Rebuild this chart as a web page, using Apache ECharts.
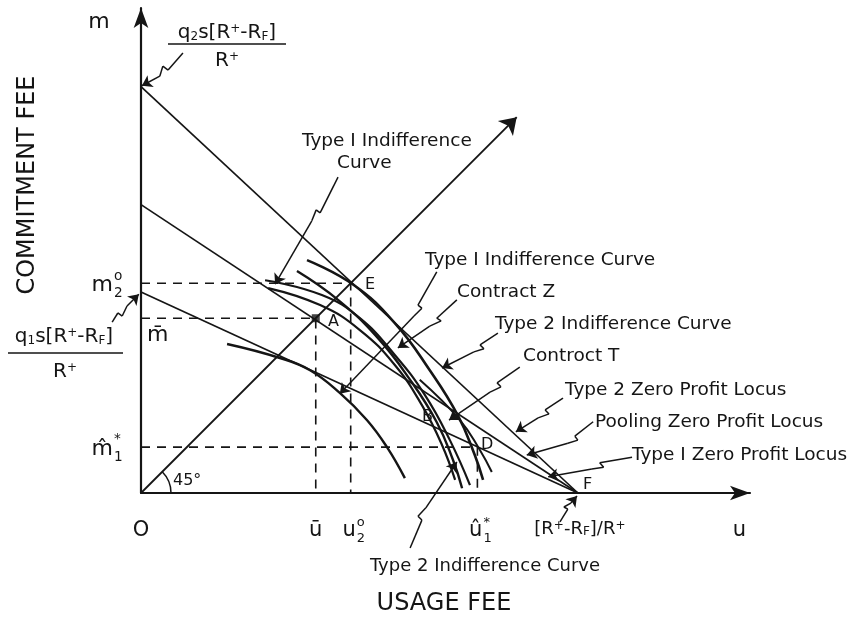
<!DOCTYPE html>
<html>
<head>
<meta charset="utf-8">
<script src="https://cdn.jsdelivr.net/npm/echarts@6/dist/echarts.min.js"></script>
<style>
html, body { margin: 0; background: #fff; }
#main { width: 866px; height: 617px; }
</style>
</head>
<body>
<div id="main"></div>
<script>
// units: u (usage fee) and m (commitment fee), F = [R+-RF]/R+ sits at u = 100
var type2Locus = [[0, 93], [100, 0]];
var poolingLocus = [[0, 66], [100, 0]];
var type1Locus = [[0, 46], [100, 0]];
var ray45 = [[0, 0], [86, 86]];

// indifference curves
var curveE = [[38.0, 53.3], [48.7, 47.6], [58.1, 38.9], [66.1, 28.1], [72.5, 17.8], [76.4, 8.7], [78.3, 3.0]];
var curveZ = [[35.7, 50.8], [45.1, 44.2], [54.2, 35.5], [61.6, 25.9], [67.7, 16.2], [71.4, 7.6], [73.5, 1.1]];
var curveT2a = [[28.4, 48.7], [41.4, 45.3], [50.1, 40.0], [58.1, 31.6], [65.0, 22.4], [70.7, 12.1], [75.3, 1.8]];
var curveT2b = [[29.1, 46.9], [41.0, 43.0], [50.1, 37.3], [58.1, 29.3], [64.3, 20.1], [68.9, 11.0], [71.9, 3.0]];
var curveD = [[63.8, 25.9], [73.0, 16.7], [77.6, 9.8], [80.3, 4.8]];
var curveLow = [[19.7, 34.1], [31.8, 30.9], [38.7, 28.1], [45.5, 22.9], [51.7, 16.7], [56.3, 10.5], [60.4, 3.4]];

// dashed guides to the axes
var guideE = [[0, 48], [48, 48], [48, 0]];
var guideA = [[0, 40], [40, 40], [40, 0]];
var guideD = [[0, 10.5], [77, 10.5], [77, 0]];
var pointA = [[40, 40]];

// leader lines (wiggle in the middle, arrow on the last piece)
var leadQ2 = [[9.6, 100.7], [6.2, 96.8], [5.0, 97.7], [4.3, 95.4], [0.2, 93.2]];
var leadQ1 = [[-6.6, 39.1], [-5.3, 41.2], [-4.3, 40.5], [-3.2, 42.8], [-0.5, 45.5]];
var leadType1Top = [[45.1, 72.3], [41.0, 64.1], [40.1, 64.8], [39.1, 62.3], [30.7, 47.8]];
var leadType1 = [[67.7, 50.6], [63.4, 43.0], [64.3, 42.3], [62.5, 40.5], [45.5, 22.7]];
var leadZ = [[72.3, 44.2], [67.7, 40.0], [68.7, 39.4], [66.1, 38.2], [58.8, 33.2]];
var leadType2 = [[81.7, 36.6], [77.6, 33.9], [78.5, 33.0], [76.2, 32.3], [68.9, 28.6]];
var leadT = [[86.7, 28.8], [81.5, 25.2], [82.4, 24.3], [79.9, 23.1], [70.5, 16.7]];
var leadZero2 = [[96.6, 21.7], [92.5, 19.0], [93.4, 18.1], [90.9, 17.2], [85.8, 14.0]];
var leadPool = [[103.5, 16.3], [99.3, 13.0], [100.0, 12.1], [97.7, 11.4], [88.3, 8.7]];
var leadZero1 = [[112.4, 8.2], [105.0, 6.9], [105.9, 5.9], [103.2, 5.5], [93.2, 3.7]];
var leadF = [[95.9, -6.6], [97.7, -3.7], [96.8, -3.2], [98.4, -2.3], [99.8, -0.7]];
var leadType2Low = [[61.6, -12.6], [64.3, -6.2], [63.4, -5.3], [65.2, -3.4], [72.3, 7.1]];

// tick labels
var uTicks = [0, 40, 48, 77, 100, 137];
var uTickNames = [['O'], ['ū'], ['u', 'o', '2'], ['û', '*', '1'], ['[R{sup|+}-R{sub|F}]/R{sup|+}'], ['u']];
var mTicks = [48, 40, 10.5, 107.8];
var mTickNames = [['m', 'o', '2'], ['m̄'], ['m̂', '*', '1'], ['m']];

var INK = '#151515';
var FONT = 'DejaVu Sans';

var chart = echarts.init(document.getElementById('main'));

function curve(data, width, smooth, dash) {
    return {
        type: 'line', data: data, symbol: 'none', clip: false, silent: true,
        smooth: smooth ? 0.45 : false,
        lineStyle: {color: INK, width: width, type: dash ? [9, 7] : 'solid'}
    };
}

var leaders = [leadQ2, leadQ1, leadType1Top, leadType1, leadZ, leadType2, leadT,
    leadZero2, leadPool, leadZero1, leadF, leadType2Low];
var bodies = [], tips = [];
leaders.forEach(function (pts) {
    for (var i = 0; i < pts.length - 1; i++) {
        var seg = {coords: [pts[i], pts[i + 1]]};
        if (i === pts.length - 2) tips.push(seg); else bodies.push(seg);
    }
});

var option = {
    animation: false,
    backgroundColor: '#fff',
    grid: {left: 141, top: 8, right: 116, bottom: 124},
    xAxis: {
        type: 'value', min: 0, max: 139.4,
        axisLine: {show: true, symbol: ['none', 'arrow'], symbolSize: [11, 20], lineStyle: {color: INK, width: 2.2}},
        axisTick: {show: false}, axisLabel: {show: false}, splitLine: {show: false}
    },
    yAxis: {
        type: 'value', min: 0, max: 111,
        axisLine: {show: true, symbol: ['none', 'arrow'], symbolSize: [11, 20], lineStyle: {color: INK, width: 2.2}},
        axisTick: {show: false}, axisLabel: {show: false}, splitLine: {show: false}
    },
    series: [
        curve(type2Locus, 1.7, false),
        curve(poolingLocus, 1.7, false),
        curve(type1Locus, 1.7, false),
        curve(curveE, 2.6, true),
        curve(curveZ, 2.4, true),
        curve(curveT2a, 2.2, true),
        curve(curveT2b, 2.2, true),
        curve(curveD, 2.0, true),
        curve(curveLow, 2.4, true),
        curve(guideE, 1.6, false, true),
        curve(guideA, 1.6, false, true),
        curve(guideD, 1.6, false, true),
        {
            type: 'lines', coordinateSystem: 'cartesian2d', clip: false, silent: true,
            data: [{coords: ray45}], symbol: ['none', 'arrow'], symbolSize: [0, 16],
            lineStyle: {color: INK, width: 1.8, opacity: 1}
        },
        {
            type: 'lines', coordinateSystem: 'cartesian2d', clip: false, silent: true,
            data: bodies, symbol: ['none', 'none'],
            lineStyle: {color: INK, width: 1.5, opacity: 1}
        },
        {
            type: 'lines', coordinateSystem: 'cartesian2d', clip: false, silent: true,
            data: tips, symbol: ['none', 'arrow'], symbolSize: [0, 10],
            lineStyle: {color: INK, width: 1.5, opacity: 1}
        },
        {
            type: 'scatter', data: pointA, symbol: 'rect', symbolSize: 8, silent: true,
            itemStyle: {color: INK}
        }
    ]
};
chart.setOption(option);

var rich = {
    sup: {fontSize: 12, fontFamily: FONT, verticalAlign: 'top', color: INK},
    sub: {fontSize: 12, fontFamily: FONT, verticalAlign: 'bottom', color: INK}
};

function txt(x, y, s, size, align, extra) {
    var g = {
        type: 'text', x: x, y: y, silent: true,
        style: {text: s, fontSize: size, fontFamily: FONT, fill: INK,
            align: align || 'left', verticalAlign: 'middle', rich: rich}
    };
    if (extra) for (var k in extra) g[k] = extra[k];
    return g;
}

// base glyph with stacked superscript and subscript
function scripted(x, y, name, size) {
    var out = [txt(x, y, name[0], size, name.length > 1 ? 'right' : 'center')];
    if (name[1]) out.push(txt(x + 1, y - size * 0.42, name[1], size * 0.62, 'left'));
    if (name[2]) out.push(txt(x + 1, y + size * 0.38, name[2], size * 0.62, 'left'));
    return out;
}

var gfx = [];
uTicks.forEach(function (v, i) {
    var p = chart.convertToPixel({gridIndex: 0}, [v, 0]);
    var name = uTickNames[i];
    if (name[0].indexOf('{') >= 0) {
        gfx.push(txt(p[0] + 2, p[1] + 36, name[0], 18, 'center'));
    } else {
        gfx = gfx.concat(scripted(p[0] + (name.length > 1 ? 5 : 0), p[1] + 38, name, 21));
    }
});
mTicks.forEach(function (v, i) {
    var p = chart.convertToPixel({gridIndex: 0}, [0, v]);
    var name = mTickNames[i];
    if (name[0] === 'm̄') gfx.push(txt(p[0] + 6, p[1] + 17, name[0], 22, 'left'));
    else if (name.length === 1) gfx.push(txt(p[0] - 42, p[1], name[0], 22, 'center'));
    else gfx = gfx.concat(scripted(p[0] - 28, p[1] + 2, name, 22));
});

var o = chart.convertToPixel({gridIndex: 0}, [0, 0]);
gfx.push({
    type: 'arc', silent: true,
    shape: {cx: o[0], cy: o[1], r: 30, startAngle: -Math.PI / 4, endAngle: 0, clockwise: true},
    style: {stroke: INK, fill: null, lineWidth: 1.5}
});

gfx.push(
    txt(302, 141, 'Type I Indifference', 18.5),
    txt(337, 163, 'Curve', 18.5),
    txt(425, 260, 'Type I Indifference Curve', 18.5),
    txt(457, 292, 'Contract Z', 18.5),
    txt(495, 324, 'Type 2 Indifference Curve', 18.5),
    txt(523, 356, 'Controct T', 18.5),
    txt(565, 390, 'Type 2 Zero Profit Locus', 18.5),
    txt(595, 422, 'Pooling Zero Profit Locus', 18.5),
    txt(632, 455, 'Type I Zero Profit Locus', 18.5),
    txt(485, 566, 'Type 2 Indifference Curve', 18, 'center'),
    txt(444, 604, 'USAGE FEE', 24, 'center'),
    txt(28, 185, 'COMMITMENT FEE', 24, 'center', {rotation: Math.PI / 2}),
    txt(365, 285, 'E', 16),
    txt(328, 322, 'A', 16),
    txt(422, 417, 'B', 16),
    txt(481, 445, 'D', 16),
    txt(583, 485, 'F', 16),
    txt(173, 481, '45°', 16),
    txt(227, 33, 'q{sub|2}s[R{sup|+}-R{sub|F}]', 20, 'center'),
    txt(227, 61, 'R{sup|+}', 20, 'center'),
    txt(64, 337, 'q{sub|1}s[R{sup|+}-R{sub|F}]', 20, 'center'),
    txt(65, 372, 'R{sup|+}', 20, 'center'),
    {type: 'line', silent: true, shape: {x1: 168, y1: 44, x2: 286, y2: 44}, style: {stroke: INK, lineWidth: 1.5}},
    {type: 'line', silent: true, shape: {x1: 8, y1: 353, x2: 123, y2: 353}, style: {stroke: INK, lineWidth: 1.5}}
);

chart.setOption({graphic: gfx});
</script>
</body>
</html>
